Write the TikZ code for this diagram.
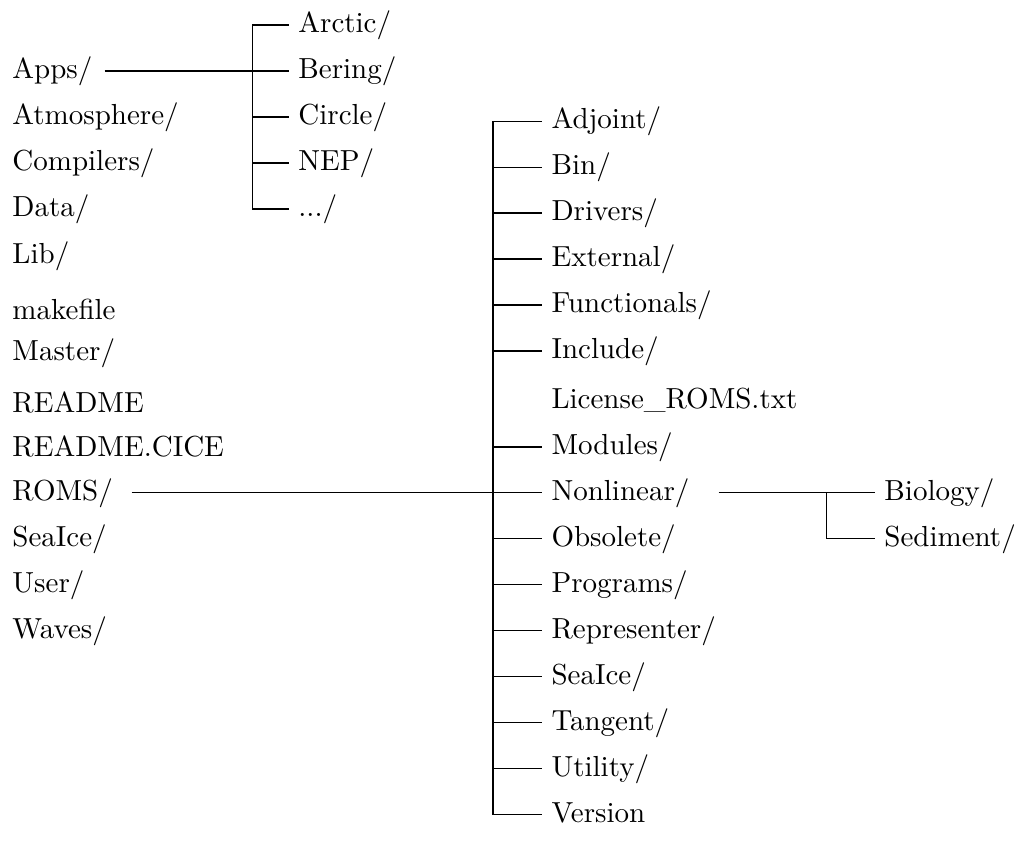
\documentclass[tikz,border=0pt]{standalone}
\usepackage{tikz}
\usetikzlibrary{positioning,calc}

\begin{document}
\begin{tikzpicture}[node distance=15.86pt, thin]

    \tikzset{entry/.style={inner xsep=3.2pt, inner ysep=0pt, text height=7.5pt, text depth=2.5pt}}

    \useasboundingbox (0,0) rectangle (352.1pt,-294.5pt);

    % top level
    \node[entry, anchor=west] (apps) at (0.9pt,-24.5pt)    {Apps/};
    \node[entry] (atm)     [below=of apps.west, anchor=west]         {Atmosphere/};
    \node[entry] (comp)    [below=of atm.west, anchor=west]          {Compilers/};
    \node[entry] (data)    [below=of comp.west, anchor=west]         {Data/};
    \node[entry] (lib)     [below=16.2pt of data.west, anchor=west]  {Lib/};
    \node[entry] (make)    [below=19.3pt of lib.west, anchor=west]   {makefile};
    \node[entry] (master)  [below=14.1pt of make.west, anchor=west]  {Master/};
    \node[entry] (readme)  [below=17.9pt of master.west, anchor=west] {README};
    \node[entry] (cice)    [below=15.2pt of readme.west, anchor=west] {README.CICE};
    \node[entry] (roms)    [below=15.2pt of cice.west, anchor=west]  {ROMS/};
    \node[entry] (seaice)  [below=of roms.west, anchor=west]         {SeaIce/};
    \node[entry] (user)    [below=of seaice.west, anchor=west]       {User/};
    \node[entry] (waves)   [below=of user.west, anchor=west]         {Waves/};

    % Apps/
    \node[entry] (bering)  [right=98.6pt of apps.west, anchor=west]  {Bering/};
    \node[entry] (arctic)  [above=of bering.west, anchor=west]       {Arctic/};
    \node[entry] (circle)  [below=of bering.west, anchor=west]       {Circle/};
    \node[entry] (nep)     [below=of circle.west, anchor=west]       {NEP/};
    \node[entry] (dots)    [below=of nep.west, anchor=west]          {.../};

    % ROMS/
    \node[entry] (nonlin)  [right=185.9pt of roms.west, anchor=west] {Nonlinear/};
    \node[entry] (modules) [above=of nonlin.west, anchor=west]       {Modules/};
    \node[entry] (license) [above=of modules.west, anchor=west]      {License\_ROMS.txt};
    \node[entry] (include) [above=17.2pt of license.west, anchor=west] {Include/};
    \node[entry] (func)    [above=of include.west, anchor=west]      {Functionals/};
    \node[entry] (ext)     [above=of func.west, anchor=west]         {External/};
    \node[entry] (drivers) [above=of ext.west, anchor=west]          {Drivers/};
    \node[entry] (bin)     [above=of drivers.west, anchor=west]      {Bin/};
    \node[entry] (adjoint) [above=of bin.west, anchor=west]          {Adjoint/};
    \node[entry] (obsolete) [below=of nonlin.west, anchor=west]      {Obsolete/};
    \node[entry] (programs) [below=of obsolete.west, anchor=west]    {Programs/};
    \node[entry] (repr)    [below=of programs.west, anchor=west]     {Representer/};
    \node[entry] (rseaice) [below=of repr.west, anchor=west]         {SeaIce/};
    \node[entry] (tangent) [below=of rseaice.west, anchor=west]      {Tangent/};
    \node[entry] (utility) [below=of tangent.west, anchor=west]      {Utility/};
    \node[entry] (version) [below=of utility.west, anchor=west]      {Version};

    % Nonlinear/
    \node[entry] (biology)  [right=114.8pt of nonlin.west, anchor=west] {Biology/};
    \node[entry] (sediment) [below=of biology.west, anchor=west]        {Sediment/};

    \draw[shorten <=0.8pt] (apps.east) -- (bering.west);
    \draw ([xshift=-12.5pt]arctic.west) -- ([xshift=-12.5pt]dots.west);
    \foreach \n in {arctic,bering,circle,nep,dots}
        \draw ([xshift=-12.5pt]\n.west) -- (\n.west);

    \draw[shorten <=3.1pt] (roms.east) -- (nonlin.west);
    \draw ([xshift=-16.8pt]adjoint.west) -- ([xshift=-16.8pt]version.west);
    \foreach \n in {adjoint,bin,drivers,ext,func,include,modules,nonlin,obsolete,programs,repr,rseaice,tangent,utility,version}
        \draw ([xshift=-16.8pt]\n.west) -- (\n.west);

    \draw[shorten <=6.7pt] (nonlin.east) -- (biology.west);
    \draw ([xshift=-16.5pt]biology.west) -- ([xshift=-16.5pt]sediment.west);
    \foreach \n in {biology,sediment}
        \draw ([xshift=-16.5pt]\n.west) -- (\n.west);
\end{tikzpicture}
\end{document}
